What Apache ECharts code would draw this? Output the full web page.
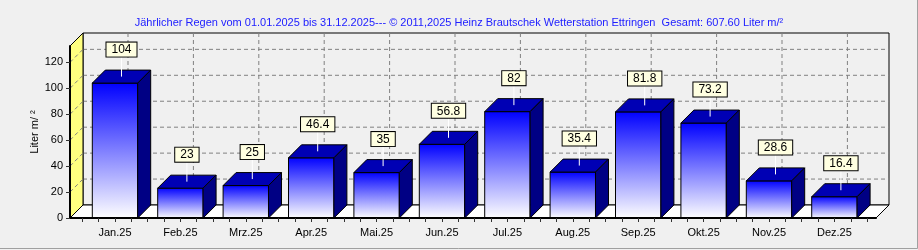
<!DOCTYPE html>
<html>
<head>
<meta charset="utf-8">
<script src="https://cdn.jsdelivr.net/npm/echarts@6/dist/echarts.min.js"></script>
<style>
html,body{margin:0;padding:0;background:#f0f0f0;}
#chart{width:918px;height:250px;}
</style>
</head>
<body>
<div id="chart"></div>
<script>
// ---- data ----
const categories = ['Jan.25','Feb.25','Mrz.25','Apr.25','Mai.25','Jun.25','Jul.25','Aug.25','Sep.25','Okt.25','Nov.25','Dez.25'];
const rain = [104, 23, 25, 46.4, 35, 56.8, 82, 35.4, 81.8, 73.2, 28.6, 16.4];
const yTicks = [0, 20, 40, 60, 80, 100, 120];
const titleText = 'Jährlicher Regen vom 01.01.2025 bis 31.12.2025--- © 2011,2025 Heinz Brautschek Wetterstation Ettringen  Gesamt: 607.60 Liter m/²';
const yName = 'Liter m/ ²';

// ---- style / layout ----
const FONT = '"Liberation Sans", Arial, sans-serif';
const D = 13;            // 3D depth in px
const X_MIN = -0.688, X_MAX = 11.636, Y_MAX = 132.6;
const BAR_FRAC = 0.694;

const xTickVals = [];
for (let i = 0; i < categories.length; i++) {
  for (let k = -2; k < 2; k++) xTickVals.push(i + k * 0.25);
}
xTickVals.push(categories.length - 0.5);

const chart = echarts.init(document.getElementById('chart'), null, {renderer: 'canvas'});

function decor(params, api) {
  const cs = params.coordSys;
  const L = cs.x, T = cs.y, R = cs.x + cs.width, B = cs.y + cs.height;
  const dash = {stroke: '#808080', lineWidth: 1, lineDash: [4, 3]};
  const ch = [];
  ch.push({type: 'rect', shape: {x: L + D, y: T - D, width: cs.width, height: cs.height},
    style: {fill: '#f0f0f0', stroke: '#000', lineWidth: 1}});
  yTicks.forEach(v => {
    if (v === 0) return;
    const y = api.coord([0, v])[1];
    ch.push({type: 'line', shape: {x1: L + D, y1: y - D, x2: R + D, y2: y - D}, style: dash});
  });
  categories.forEach((c, i) => {
    const x = api.coord([i, 0])[0] + D;
    ch.push({type: 'line', shape: {x1: x, y1: T - D, x2: x, y2: B - D}, style: dash});
  });
  ch.push({type: 'polygon', shape: {points: [[L, T], [L + D, T - D], [L + D, B - D], [L, B]]},
    style: {fill: '#ffff80', stroke: '#000', lineWidth: 1}});
  yTicks.forEach(v => {
    if (v === 0) return;
    const y = api.coord([0, v])[1];
    ch.push({type: 'line', shape: {x1: L, y1: y, x2: L + D, y2: y - D}, style: dash});
  });
  ch.push({type: 'polygon', shape: {points: [[L, B], [L + D, B - D], [R + D, B - D], [R, B]]},
    style: {fill: '#ffffff', stroke: '#000', lineWidth: 1}});
  return {type: 'group', children: ch};
}

function bar3d(params, api) {
  const i = api.value(0), v = api.value(1);
  const top = api.coord([i, v]);
  const base = api.coord([i, 0]);
  const w = api.size([1, 0])[0] * BAR_FRAC;
  const x0 = top[0] - w / 2, x1 = top[0] + w / 2, yt = top[1], yb = base[1];
  const cx = top[0] + D / 2, cy = yt - D / 2;
  return {type: 'group', children: [
    {type: 'rect', shape: {x: x0, y: yt, width: w, height: yb - yt},
      style: {fill: {type: 'linear', x: 0, y: 0, x2: 0, y2: 1,
        colorStops: [{offset: 0, color: '#0000ff'}, {offset: 1, color: '#ffffff'}]},
        stroke: '#000', lineWidth: 1}},
    {type: 'polygon', shape: {points: [[x0, yt], [x0 + D, yt - D], [x1 + D, yt - D], [x1, yt]]},
      style: {fill: '#0000b4', stroke: '#000', lineWidth: 1}},
    {type: 'polygon', shape: {points: [[x1, yt], [x1 + D, yt - D], [x1 + D, yb - D], [x1, yb]]},
      style: {fill: '#000084', stroke: '#000', lineWidth: 1}},
    {type: 'line', shape: {x1: cx, y1: cy, x2: cx, y2: cy - 20},
      style: {stroke: '#ffffff', lineWidth: 1}},
    {type: 'text', x: cx, y: cy - 20,
      style: {text: String(v), align: 'center', verticalAlign: 'bottom',
        font: '12px ' + FONT, fill: '#000', backgroundColor: '#ffffe1',
        borderColor: '#000', borderWidth: 1, padding: [1, 5, 0, 5], lineHeight: 13}}
  ]};
}

chart.setOption({
  backgroundColor: '#f0f0f0',
  animation: false,
  title: {text: titleText, left: 'center', top: 12,
    textStyle: {fontSize: 11, fontWeight: 'normal', color: '#2020ff', fontFamily: FONT}},
  grid: {left: 70, right: 42, top: 46, bottom: 32},
  xAxis: {type: 'value', min: X_MIN, max: X_MAX, z: 5,
    splitLine: {show: false},
    axisLine: {onZero: false, lineStyle: {color: '#000', width: 2}},
    axisTick: {customValues: xTickVals, length: 4, lineStyle: {color: '#333'}},
    axisLabel: {customValues: categories.map((c, i) => i), formatter: v => categories[Math.round(v)],
      margin: 9, fontSize: 11, color: '#000', fontFamily: FONT}},
  yAxis: {type: 'value', min: 0, max: Y_MAX, z: 5,
    name: yName, nameLocation: 'middle', nameGap: 30, nameMoveOverlap: false,
    nameTextStyle: {fontSize: 11, color: '#000', fontFamily: FONT},
    splitLine: {show: false},
    axisLine: {show: true, onZero: false, lineStyle: {color: '#000', width: 2}},
    axisTick: {show: true, customValues: yTicks, length: 4, lineStyle: {color: '#333'}},
    axisLabel: {customValues: yTicks, margin: 7, fontSize: 11, color: '#000', fontFamily: FONT}},
  graphic: [
    {type: 'line', shape: {x1: 917.5, y1: 0, x2: 917.5, y2: 248.5}, style: {stroke: '#a0a0a0', lineWidth: 1}},
    {type: 'line', shape: {x1: 0, y1: 248.5, x2: 917.5, y2: 248.5}, style: {stroke: '#a0a0a0', lineWidth: 1}}
  ],
  series: [
    {type: 'custom', z: 1, silent: true, clip: false, renderItem: decor, data: [[0, 0]]},
    {type: 'custom', z: 3, clip: false, renderItem: bar3d, data: rain.map((v, i) => [i, v])}
  ]
});
</script>
</body>
</html>
